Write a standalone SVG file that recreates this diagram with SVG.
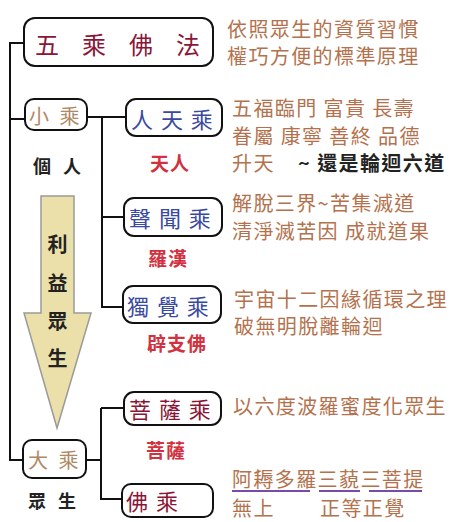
<svg xmlns="http://www.w3.org/2000/svg" width="474" height="522" viewBox="0 0 474 522">
<style>
text{font-family:"Noto Sans CJK TC","Noto Sans CJK SC",sans-serif;dominant-baseline:central}
.box{fill:#fff;stroke:#111;stroke-width:2}
.ln{fill:none;stroke:#111;stroke-width:2}
.title{font-size:24px;fill:#8a1535;letter-spacing:8.8px}
.tan{font-size:20px;fill:#b08864;letter-spacing:3px}
.blue{font-size:22px;fill:#3a4aa0;letter-spacing:1.5px}
.dred{font-size:22px;fill:#8a1535;letter-spacing:1.5px}
.red{font-size:19px;fill:#d2313f;letter-spacing:1px;font-weight:bold}
.blk{font-size:18px;fill:#222;letter-spacing:4px;font-weight:bold}
.desc{font-size:20px;fill:#b3724d;letter-spacing:1.4px}
.arr{font-size:20px;fill:#222;font-weight:bold;text-anchor:middle}
</style>
<rect width="474" height="522" fill="#fff"/>
<g id="connectors">
<path class="ln" d="M24,43 H10 V460 H23"/>
<path class="ln" d="M10,119 H25"/>
<path class="ln" d="M87,117 H126 M102,117 V307 H123 M102,217 H124"/>
<path class="ln" d="M86,460 H101 M101,408 V499 H122 M101,408 H124"/>
</g>
<g id="arrow">
<polygon points="41,196 74,196 74,313 91,313 57,428 24,313 41,313" fill="#ece0aa" stroke="#9a9a9a" stroke-width="1.5"/>
<text class="arr" x="57.5" y="243">利</text>
<text class="arr" x="57.5" y="282">益</text>
<text class="arr" x="57.5" y="320">眾</text>
<text class="arr" x="57.5" y="357">生</text>
</g>
<g id="n-title">
<rect class="box" x="24" y="18" width="189" height="48" rx="11"/>
<text class="title" x="35" y="43">五 乘 佛 法</text>
</g>
<g id="n-xiaocheng">
<rect class="box" x="25" y="99" width="62" height="31" rx="9"/>
<text class="tan" x="29" y="115">小 乘</text>
<text class="blk" x="33" y="165">個 人</text>
</g>
<g id="n-rentian">
<rect class="box" x="126" y="99" width="96" height="37" rx="10"/>
<text class="blue" x="131" y="118">人 天 乘</text>
<text class="red" x="150" y="162">天人</text>
</g>
<g id="n-shengwen">
<rect class="box" x="124" y="198" width="98" height="38" rx="10"/>
<text class="blue" x="129" y="217">聲 聞 乘</text>
<text class="red" x="148" y="257">羅漢</text>
</g>
<g id="n-dujue">
<rect class="box" x="123" y="286" width="98" height="37" rx="10"/>
<text class="blue" x="127" y="305">獨 覺 乘</text>
<text class="red" x="147" y="342">辟支佛</text>
</g>
<g id="n-pusa">
<rect class="box" x="124" y="392" width="97" height="33" rx="10"/>
<text class="dred" x="129" y="408">菩 薩 乘</text>
<text class="red" x="146" y="449">菩薩</text>
</g>
<g id="n-dacheng">
<rect class="box" x="23" y="440" width="63" height="38" rx="9"/>
<text class="tan" x="28" y="459">大 乘</text>
<text class="blk" x="28" y="500">眾 生</text>
</g>
<g id="n-focheng">
<rect class="box" x="122" y="484" width="91" height="33" rx="9"/>
<text class="dred" x="126" y="500">佛 乘</text>
</g>
<g id="descriptions">
<text class="desc" x="227" y="28">依照眾生的資質習慣</text>
<text class="desc" x="227" y="55">權巧方便的標準原理</text>
<text class="desc" x="232" y="107">五福臨門 富貴 長壽</text>
<text class="desc" x="232" y="135">眷屬 康寧 善終 品德</text>
<text class="desc" x="232" y="162">升天</text>
<text class="desc" x="298" y="162" style="fill:#222;font-weight:bold">~ 還是輪迴六道</text>
<text class="desc" x="232" y="202">解脫三界~苦集滅道</text>
<text class="desc" x="232" y="230">清淨滅苦因 成就道果</text>
<text class="desc" x="234" y="298">宇宙十二因緣循環之理</text>
<text class="desc" x="234" y="325">破無明脫離輪迴</text>
<text class="desc" x="233" y="405">以六度波羅蜜度化眾生</text>
<text class="desc" x="232" y="478">阿耨多羅三藐三菩提</text>
<text class="desc" x="232" y="507">無上</text>
<text class="desc" x="320" y="507">正等正覺</text>
<path d="M232,491 H310 M319,491 H360 M369,491 H422" stroke="#7a4aa8" stroke-width="2" fill="none"/>
</g>
</svg>
